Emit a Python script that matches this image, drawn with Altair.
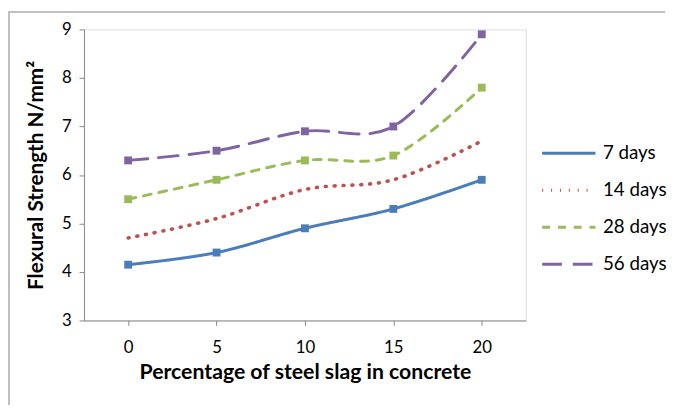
import altair as alt
import pandas as pd

pct = ["0", "5", "10", "15", "20"]
series = ["7 days", "14 days", "28 days", "56 days"]
d7 = [4.15, 4.4, 4.9, 5.3, 5.9]
d14 = [4.7, 5.1, 5.7, 5.9, 6.7]
d28 = [5.5, 5.9, 6.3, 6.4, 7.8]
d56 = [6.3, 6.5, 6.9, 7.0, 8.9]
colors = ["#4A7EBB", "#C0504D", "#9BBB59", "#8064A2"]
dashes = [[1, 0], [1, 8], [8, 8], [20, 11]]

rows = []
for s, vals in zip(series, [d7, d14, d28, d56]):
    for p, v in zip(pct, vals):
        rows.append({"pct": p, "value": v, "series": s})
df = pd.DataFrame(rows)

FONT = "Lato"

x_enc = alt.X("pct:O", sort=pct, scale=alt.Scale(type="point", padding=0.5),
              axis=alt.Axis(title="Percentage of steel slag in concrete", labelAngle=0,
                            labelFontSize=17, titleFontSize=21.5, titleFontWeight="bold",
                            domainColor="#868686", tickColor="#868686", tickSize=5,
                            labelPadding=14, titlePadding=7, labelColor="#000", titleColor="#000",
                            labelFont=FONT, titleFont=FONT, grid=False))
y_enc = alt.Y("value:Q", scale=alt.Scale(domain=[3, 9], nice=False, zero=False),
              axis=alt.Axis(title="Flexural Strength N/mm²", values=[3, 4, 5, 6, 7, 8, 9],
                            labelFontSize=17, titleFontSize=21, titleFontWeight="bold",
                            domainColor="#868686", tickColor="#868686", tickSize=5,
                            labelPadding=8, titlePadding=15, labelColor="#000", titleColor="#000",
                            labelFont=FONT, titleFont=FONT, grid=False))

color_scale = alt.Scale(domain=series, range=colors)
dash_scale = alt.Scale(domain=series, range=dashes)

legend = alt.Legend(title=None, orient="none", legendX=479, legendY=113,
                    symbolType="M-2.5,0H2.5", symbolStrokeWidth=3, symbolSize=467,
                    labelFontSize=19, labelFont=FONT, labelColor="#000",
                    rowPadding=14.5, labelOffset=22)

base = alt.Chart(df).encode(
    x=x_enc, y=y_enc,
    color=alt.Color("series:N", scale=color_scale, sort=series, legend=legend),
    strokeDash=alt.StrokeDash("series:N", scale=dash_scale, sort=series),
)

lines = base.transform_filter(alt.datum.series != "14 days").mark_line(
    interpolate="cardinal", strokeCap="round", strokeWidth=3)
dotted = base.transform_filter(alt.datum.series == "14 days").mark_line(
    interpolate="cardinal", strokeCap="round", strokeWidth=3.6)

points = alt.Chart(df).transform_filter(alt.datum.series != "14 days").mark_square(
    size=64, opacity=1, filled=True).encode(
    x=alt.X("pct:O", sort=pct), y="value:Q",
    color=alt.Color("series:N", scale=color_scale, legend=None),
)

left_border = alt.Chart(df).mark_rule(color="#bfbfbf", strokeWidth=1.5).encode(
    x=alt.value(-76), y=alt.value(-18), y2=alt.value(380))
top_border = alt.Chart(df).mark_rule(color="#bfbfbf", strokeWidth=1.5).encode(
    x=alt.value(-76), x2=alt.value(589), y=alt.value(-18))

chart = alt.layer(left_border, top_border, lines, dotted, points).properties(
    width=448, height=295, padding=0
).configure_view(stroke=None).configure(background="white")

chart.save("out.html", embed_options={"renderer": "svg", "actions": False})
